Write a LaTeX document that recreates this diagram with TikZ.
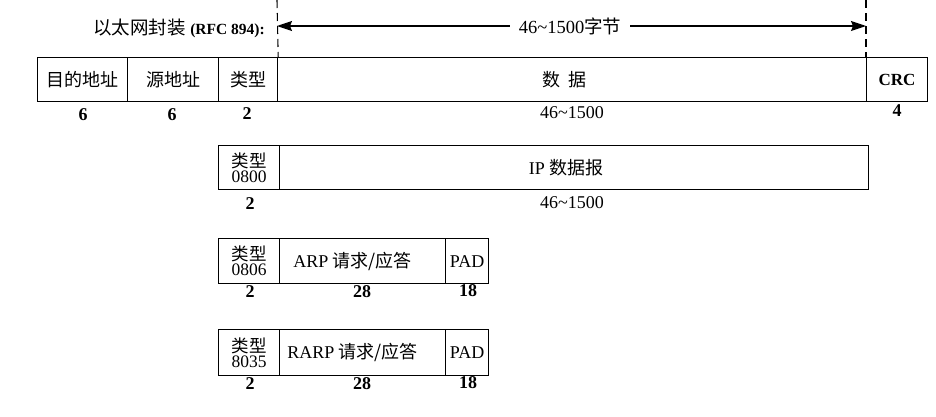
\documentclass[tikz,border=0pt]{standalone}
\usepackage{fontspec}
\setmainfont{Liberation Serif}
\newfontfamily\cjk{Noto Sans CJK SC}
\usetikzlibrary{arrows.meta}
\begin{document}
\begin{tikzpicture}[x=1pt,y=-1pt,
 field/.style={draw, line width=1.2pt, anchor=north west, inner sep=0pt, font=\fontsize{18}{18}\selectfont},
 tstack/.style={field, align=center, font=\fontsize{17.5}{15}\selectfont},
 len/.style={inner sep=0pt, font=\bfseries\fontsize{18}{18}\selectfont},
 lenn/.style={inner sep=0pt, font=\fontsize{18}{18}\selectfont},
 guide/.style={line width=1.1pt, dash pattern=on 8pt off 5pt},
 span/.style={line width=1.2pt, {Stealth[length=15pt,width=10pt,inset=2pt]}-{Stealth[length=15pt,width=10pt,inset=2pt]}}
]
\useasboundingbox (0,0) rectangle (936,416);

% header
\node[inner sep=0pt, anchor=east, font=\fontsize{18.5}{18}\selectfont] (enc) at (265,28)
  {{\cjk 以太网封装} {\bfseries\fontsize{15.5}{15}\selectfont (RFC 894):}};

% row 1
\node[field, minimum width=90pt, minimum height=44pt] (dst) at (37,57) {\cjk 目的地址};
\node[field, minimum width=91pt, minimum height=44pt] (src) at (127,57) {\cjk 源地址};
\node[field, minimum width=59pt, minimum height=44pt] (typ) at (218,57) {\cjk 类型};
\node[field, minimum width=589pt, minimum height=44pt] (data) at (277,57) {{\cjk 数\hspace{8pt}据}\kern16pt};
\node[field, minimum width=61pt, minimum height=44pt, font=\bfseries\fontsize{17}{17}\selectfont] (crc) at (866,57) {CRC};

\coordinate (gl) at (277,0);
\coordinate (gr) at (866,0);
\draw[guide] (gl) -- (typ.north east);
\draw[guide] (gr) -- (crc.north west);
\coordinate (al) at (277,26);
\coordinate (ar) at (866,26);
\draw[span] (al) -- (ar);
\node[fill=white, inner xsep=9pt, inner ysep=1pt, font=\fontsize{18.5}{18}\selectfont] (spanlbl) at (570,26) {46\textasciitilde1500{\cjk 字节}};

\node[len] (n1) at (83,115) {6};
\node[len] (n2) at (172,115) {6};
\node[len] (n3) at (247,114) {2};
\node[lenn] (n4) at (572,113) {46\textasciitilde1500};
\node[len] (n5) at (897,111) {4};

% row 2
\node[tstack, minimum width=61pt, minimum height=44pt] (t2) at (218,145) {{\cjk 类型}\\0800};
\node[field, minimum width=589pt, minimum height=44pt] (ip) at (279,145) {IP {\cjk 数据报}\kern16pt};
\node[len] (m1) at (250,204) {2};
\node[lenn] (m2) at (572,203) {46\textasciitilde1500};

% row 3
\node[tstack, minimum width=61pt, minimum height=45pt] (t3) at (218,238) {{\cjk 类型}\\0806};
\node[field, minimum width=166pt, minimum height=45pt] (arp) at (279,238) {ARP {\cjk 请求/应答}\kern20pt};
\node[field, minimum width=43pt, minimum height=45pt] (pad3) at (445,238) {PAD};
\node[len] (a1) at (250,292) {2};
\node[len] (a2) at (362,292) {28};
\node[len] (a3) at (468,291) {18};

% row 4
\node[tstack, minimum width=61pt, minimum height=46pt] (t4) at (218,329) {{\cjk 类型}\\8035};
\node[field, minimum width=166pt, minimum height=46pt] (rarp) at (279,329) {RARP {\cjk 请求/应答}\kern20pt};
\node[field, minimum width=43pt, minimum height=46pt] (pad4) at (445,329) {PAD};
\node[len] (b1) at (250,384) {2};
\node[len] (b2) at (362,384) {28};
\node[len] (b3) at (468,383) {18};
\end{tikzpicture}
\end{document}
